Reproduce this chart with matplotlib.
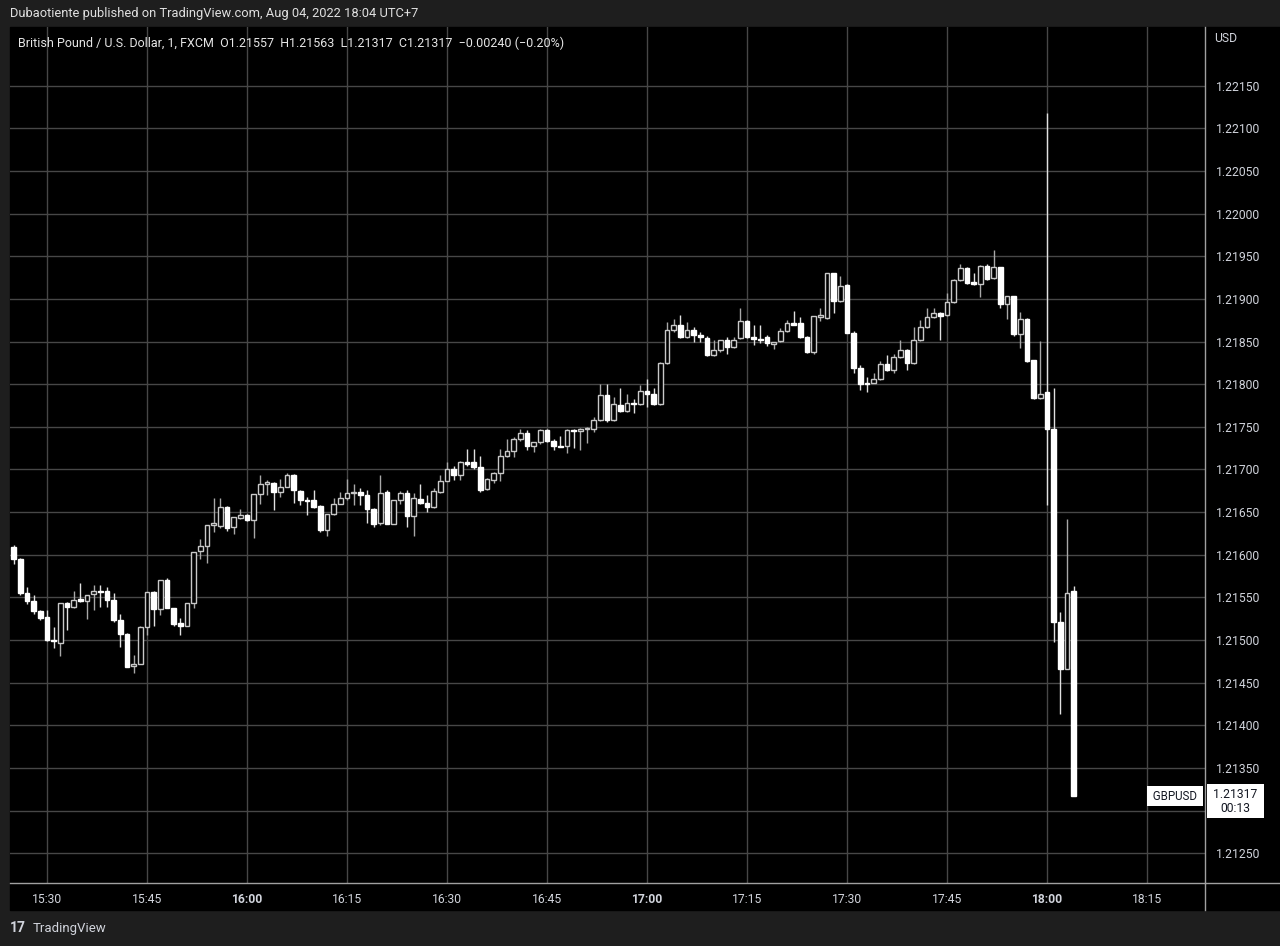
import matplotlib
matplotlib.use("Agg")
import matplotlib.pyplot as plt
import matplotlib.transforms as mtransforms
import numpy as np

plt.rcParams['font.family'] = ['Roboto', 'DejaVu Sans']

# 1-minute GBPUSD candles, 15:25 .. 18:04 (minutes counted from 15:30)
start_minute = -5
opens = [
    1.21609, 1.21595, 1.21555, 1.21546, 1.21534, 1.21527, 1.21500, 1.21497, 1.21543, 1.21539,
    1.21548, 1.21546, 1.21554, 1.21557, 1.21557, 1.21547, 1.21523, 1.21507, 1.21469, 1.21472,
    1.21515, 1.21556, 1.21536, 1.21570, 1.21538, 1.21520, 1.21517, 1.21543, 1.21604, 1.21610,
    1.21635, 1.21634, 1.21656, 1.21632, 1.21643, 1.21647, 1.21641, 1.21671, 1.21683, 1.21684,
    1.21674, 1.21680, 1.21694, 1.21675, 1.21664, 1.21664, 1.21657, 1.21629, 1.21648, 1.21660,
    1.21666, 1.21672, 1.21674, 1.21670, 1.21654, 1.21637, 1.21674, 1.21636, 1.21664, 1.21673,
    1.21645, 1.21665, 1.21661, 1.21656, 1.21674, 1.21687, 1.21700, 1.21694, 1.21709, 1.21709,
    1.21703, 1.21677, 1.21688, 1.21696, 1.21716, 1.21722, 1.21736, 1.21743, 1.21728, 1.21732,
    1.21746, 1.21734, 1.21728, 1.21727, 1.21746, 1.21745, 1.21747, 1.21748, 1.21758, 1.21787,
    1.21758, 1.21776, 1.21769, 1.21778, 1.21777, 1.21792, 1.21789, 1.21777, 1.21825, 1.21864,
    1.21869, 1.21855, 1.21864, 1.21858, 1.21854, 1.21834, 1.21840, 1.21852, 1.21844, 1.21854,
    1.21874, 1.21855, 1.21853, 1.21855, 1.21847, 1.21851, 1.21862, 1.21872, 1.21872, 1.21855,
    1.21838, 1.21879, 1.21878, 1.21930, 1.21898, 1.21916, 1.21860, 1.21819, 1.21802, 1.21802,
    1.21806, 1.21824, 1.21817, 1.21832, 1.21840, 1.21825, 1.21852, 1.21867, 1.21879, 1.21884,
    1.21881, 1.21896, 1.21922, 1.21936, 1.21920, 1.21917, 1.21939, 1.21925, 1.21937, 1.21894,
    1.21903, 1.21859, 1.21877, 1.21828, 1.21784, 1.21791, 1.21748, 1.21521, 1.21466, 1.21557,
]
highs = [
    1.21612, 1.21596, 1.21562, 1.21553, 1.21535, 1.21535, 1.21515, 1.21543, 1.21544, 1.21558,
    1.21567, 1.21553, 1.21564, 1.21564, 1.21562, 1.21555, 1.21531, 1.21508, 1.21483, 1.21517,
    1.21556, 1.21557, 1.21570, 1.21573, 1.21538, 1.21526, 1.21543, 1.21603, 1.21619, 1.21635,
    1.21667, 1.21666, 1.21657, 1.21644, 1.21654, 1.21648, 1.21671, 1.21693, 1.21688, 1.21685,
    1.21689, 1.21696, 1.21695, 1.21676, 1.21668, 1.21676, 1.21658, 1.21648, 1.21667, 1.21674,
    1.21689, 1.21683, 1.21678, 1.21676, 1.21655, 1.21693, 1.21676, 1.21664, 1.21675, 1.21676,
    1.21672, 1.21683, 1.21670, 1.21678, 1.21694, 1.21709, 1.21704, 1.21710, 1.21724, 1.21724,
    1.21716, 1.21690, 1.21697, 1.21724, 1.21736, 1.21738, 1.21748, 1.21746, 1.21732, 1.21747,
    1.21748, 1.21736, 1.21739, 1.21747, 1.21747, 1.21749, 1.21750, 1.21762, 1.21800, 1.21800,
    1.21785, 1.21796, 1.21788, 1.21783, 1.21799, 1.21806, 1.21795, 1.21826, 1.21873, 1.21876,
    1.21881, 1.21873, 1.21867, 1.21861, 1.21857, 1.21852, 1.21852, 1.21855, 1.21855, 1.21889,
    1.21875, 1.21870, 1.21870, 1.21858, 1.21850, 1.21866, 1.21875, 1.21886, 1.21879, 1.21856,
    1.21880, 1.21889, 1.21930, 1.21931, 1.21927, 1.21917, 1.21863, 1.21822, 1.21809, 1.21813,
    1.21827, 1.21834, 1.21835, 1.21852, 1.21841, 1.21867, 1.21875, 1.21889, 1.21889, 1.21885,
    1.21907, 1.21923, 1.21941, 1.21937, 1.21931, 1.21940, 1.21941, 1.21958, 1.21938, 1.21904,
    1.21904, 1.21885, 1.21878, 1.21829, 1.21851, 1.22118, 1.21795, 1.21533, 1.21642, 1.21563,
]
lows = [
    1.21589, 1.21553, 1.21542, 1.21531, 1.21523, 1.21499, 1.21491, 1.21481, 1.21512, 1.21538,
    1.21544, 1.21525, 1.21535, 1.21539, 1.21539, 1.21521, 1.21492, 1.21468, 1.21461, 1.21472,
    1.21506, 1.21517, 1.21529, 1.21537, 1.21516, 1.21506, 1.21517, 1.21537, 1.21595, 1.21590,
    1.21627, 1.21631, 1.21628, 1.21624, 1.21642, 1.21640, 1.21620, 1.21660, 1.21670, 1.21652,
    1.21668, 1.21679, 1.21661, 1.21658, 1.21647, 1.21655, 1.21627, 1.21622, 1.21647, 1.21659,
    1.21664, 1.21658, 1.21658, 1.21637, 1.21633, 1.21635, 1.21636, 1.21636, 1.21660, 1.21633,
    1.21622, 1.21660, 1.21650, 1.21655, 1.21673, 1.21686, 1.21688, 1.21688, 1.21704, 1.21701,
    1.21674, 1.21676, 1.21684, 1.21686, 1.21715, 1.21715, 1.21734, 1.21723, 1.21721, 1.21730,
    1.21732, 1.21723, 1.21726, 1.21719, 1.21725, 1.21723, 1.21731, 1.21744, 1.21757, 1.21756,
    1.21757, 1.21767, 1.21768, 1.21766, 1.21776, 1.21773, 1.21776, 1.21776, 1.21824, 1.21861,
    1.21854, 1.21854, 1.21849, 1.21849, 1.21833, 1.21833, 1.21838, 1.21836, 1.21843, 1.21853,
    1.21854, 1.21846, 1.21848, 1.21845, 1.21841, 1.21850, 1.21861, 1.21869, 1.21854, 1.21837,
    1.21835, 1.21874, 1.21877, 1.21883, 1.21897, 1.21860, 1.21813, 1.21793, 1.21791, 1.21801,
    1.21805, 1.21816, 1.21813, 1.21831, 1.21817, 1.21824, 1.21851, 1.21866, 1.21878, 1.21852,
    1.21880, 1.21895, 1.21921, 1.21917, 1.21916, 1.21902, 1.21922, 1.21924, 1.21889, 1.21877,
    1.21857, 1.21843, 1.21826, 1.21783, 1.21783, 1.21658, 1.21498, 1.21413, 1.21466, 1.21317,
]
closes = [
    1.21595, 1.21555, 1.21546, 1.21534, 1.21526, 1.21500, 1.21499, 1.21543, 1.21539, 1.21547,
    1.21546, 1.21553, 1.21557, 1.21556, 1.21547, 1.21523, 1.21507, 1.21468, 1.21472, 1.21515,
    1.21556, 1.21536, 1.21570, 1.21537, 1.21519, 1.21517, 1.21543, 1.21603, 1.21610, 1.21635,
    1.21637, 1.21656, 1.21631, 1.21644, 1.21647, 1.21641, 1.21671, 1.21683, 1.21685, 1.21674,
    1.21680, 1.21694, 1.21676, 1.21664, 1.21663, 1.21656, 1.21629, 1.21648, 1.21660, 1.21666,
    1.21672, 1.21674, 1.21670, 1.21654, 1.21636, 1.21673, 1.21636, 1.21664, 1.21673, 1.21645,
    1.21666, 1.21661, 1.21656, 1.21675, 1.21687, 1.21700, 1.21694, 1.21709, 1.21707, 1.21703,
    1.21676, 1.21689, 1.21696, 1.21716, 1.21722, 1.21736, 1.21743, 1.21728, 1.21732, 1.21746,
    1.21733, 1.21727, 1.21726, 1.21746, 1.21745, 1.21747, 1.21748, 1.21758, 1.21787, 1.21758,
    1.21777, 1.21769, 1.21778, 1.21777, 1.21792, 1.21789, 1.21777, 1.21825, 1.21864, 1.21869,
    1.21855, 1.21864, 1.21858, 1.21855, 1.21834, 1.21840, 1.21852, 1.21844, 1.21852, 1.21874,
    1.21855, 1.21853, 1.21852, 1.21848, 1.21850, 1.21862, 1.21872, 1.21870, 1.21855, 1.21838,
    1.21880, 1.21881, 1.21930, 1.21898, 1.21915, 1.21860, 1.21819, 1.21800, 1.21800, 1.21806,
    1.21824, 1.21817, 1.21832, 1.21840, 1.21825, 1.21852, 1.21867, 1.21879, 1.21884, 1.21880,
    1.21896, 1.21922, 1.21936, 1.21919, 1.21917, 1.21939, 1.21924, 1.21937, 1.21894, 1.21903,
    1.21859, 1.21877, 1.21827, 1.21784, 1.21789, 1.21748, 1.21521, 1.21466, 1.21555, 1.21317,
]

tick_minutes = [0, 15, 30, 45, 60, 75, 90, 105, 120, 135, 150, 165]
tick_labels = ['15:30', '15:45', '16:00', '16:15', '16:30', '16:45',
               '17:00', '17:15', '17:30', '17:45', '18:00', '18:15']
bold_labels = ['16:00', '17:00', '18:00']
price_ticks = [1.21250, 1.21300, 1.21350, 1.21400, 1.21450, 1.21500, 1.21550, 1.21600,
               1.21650, 1.21700, 1.21750, 1.21800, 1.21850, 1.21900, 1.21950, 1.22000,
               1.22050, 1.22100, 1.22150]
hidden_price_label = 1.21300  # covered by the last-price tag

symbol = 'GBPUSD'
countdown = '00:13'
header = 'Dubaotiente published on TradingView.com, Aug 04, 2022 18:04 UTC+7'
legend = ('British Pound / U.S. Dollar, 1, FXCM  O1.21557  H1.21563  L1.21317  '
          'C1.21317  \u22120.00240 (\u22120.20%)')

W, H = 1280, 946
frame_col = '#1e1e1e'
text_col = '#d1d4dc'
grid_col = '#474747'

fig = plt.figure(figsize=(W / 100, H / 100), dpi=100, facecolor=frame_col)

# black panel behind chart + axes
fig.patches.append(plt.Rectangle((10 / W, (H - 910) / H), 1270 / W, 883 / H,
                                 transform=fig.transFigure, color='black', zorder=-10))

ax = fig.add_axes([10 / W, (H - 883) / H, 1195 / W, 856 / H], facecolor='black')

t = np.arange(len(opens)) + start_minute
o = np.array(opens)
hi = np.array(highs)
lo = np.array(lows)
c = np.array(closes)
up = c >= o

ax.vlines(t[up], lo[up], hi[up], color='#a8a8a8', lw=1, zorder=2)
ax.vlines(t[~up], lo[~up], hi[~up], color='#e0e0e0', lw=1, zorder=2)

body_lo = np.minimum(o, c)
body_h = np.maximum(np.abs(c - o), 0.000012)
ax.bar(t[up], body_h[up], bottom=body_lo[up], width=0.7, color='black',
       edgecolor='#c8c8c8', linewidth=1, zorder=3)
ax.bar(t[~up], body_h[~up], bottom=body_lo[~up], width=0.7, color='white',
       edgecolor='white', linewidth=1, zorder=3)

ax.set_xlim(-5.55, 173.7)
ax.set_ylim(1.21215, 1.22219)

ax.set_xticks(tick_minutes)
ax.set_xticklabels(tick_labels)
for lab in ax.get_xticklabels():
    if lab.get_text() in bold_labels:
        lab.set_fontweight('bold')
ax.set_yticks(price_ticks)
ax.set_yticklabels(['' if p == hidden_price_label else '%.5f' % p for p in price_ticks])
ax.yaxis.tick_right()
ax.tick_params(axis='both', length=0, colors=text_col, labelsize=8.7)
ax.tick_params(axis='x', pad=7)
ax.tick_params(axis='y', pad=8)

ax.grid(True, color=grid_col, lw=1)
ax.set_axisbelow(True)
for side in ['top', 'left', 'bottom']:
    ax.spines[side].set_visible(False)
ax.spines['right'].set_color('#a0a0a0')
ax.spines['right'].set_linewidth(1)

# separators of axis area
fig.add_artist(plt.Line2D([10 / W, 1.0], [(H - 883) / H] * 2, color='#a0a0a0', lw=1))
fig.add_artist(plt.Line2D([1205 / W] * 2, [(H - 910) / H, (H - 883) / H], color='#a0a0a0', lw=1))

fig.text(1214 / W, 1 - 39 / H, 'USD', color=text_col, fontsize=8.7, va='center', ha='left')

# last price labels
trans = mtransforms.blended_transform_factory(fig.transFigure, ax.transData)
last = closes[-1]
ax.text(1175 / W, last, ' ' + symbol + ' ', transform=trans, ha='center', va='center',
        fontsize=8.3, color='#131722',
        bbox=dict(boxstyle='square,pad=0.3', fc='white', ec='none'))
ax.annotate(' %.5f \n%s' % (last, countdown), xy=(1235.5 / W, last), xycoords=trans,
            xytext=(0, 8), textcoords='offset pixels', ha='center', va='top',
            multialignment='center', fontsize=8.7, linespacing=1.05, color='#131722',
            bbox=dict(boxstyle='square,pad=0.3', fc='white', ec='none'),
            annotation_clip=False)

fig.text(10 / W, 1 - 14 / H, header, color='#e0e0e0', fontsize=9.3, va='center', ha='left')
fig.text(18 / W, 1 - 43 / H, legend, color='#e6e6e6', fontsize=9, va='center', ha='left')

fig.text(10 / W, 1 - 928 / H, '17', color='#d1d4dc', fontsize=10, fontweight='bold',
         va='center', ha='left')
fig.text(33 / W, 1 - 928 / H, 'TradingView', color='#d1d4dc', fontsize=9.5,
         va='center', ha='left')

fig.savefig('out.png', dpi=100, facecolor=frame_col)
